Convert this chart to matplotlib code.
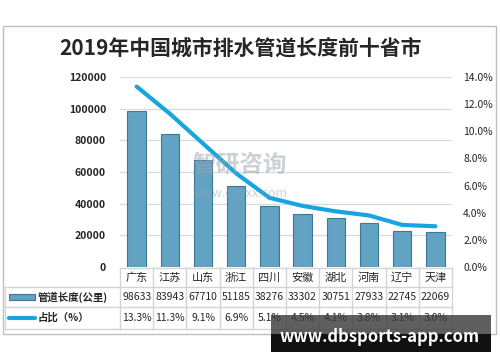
import matplotlib.pyplot as plt
import matplotlib.transforms as mtransforms
from matplotlib.lines import Line2D
from matplotlib.patches import Rectangle

plt.rcParams['font.family'] = ['Noto Sans CJK SC', 'DejaVu Sans']

provinces = ['广东', '江苏', '山东', '浙江', '四川', '安徽', '湖北', '河南', '辽宁', '天津']
lengths = [98633, 83943, 67710, 51185, 38276, 33302, 30751, 27933, 22745, 22069]
shares = [13.3, 11.3, 9.1, 6.9, 5.1, 4.5, 4.1, 3.8, 3.1, 3.0]
share_labels = ['13.3%', '11.3%', '9.1%', '6.9%', '5.1%', '4.5%', '4.1%', '3.8%', '3.1%', '3.0%']
left_ticks = [0, 20000, 40000, 60000, 80000, 100000, 120000]
right_ticks = [0, 2, 4, 6, 8, 10, 12, 14]

W, H = 500, 362
bar_c = '#62a3c4'
bar_edge = '#3d7896'
line_c = '#18a4e0'
grid_c = '#d9d9d9'
txt_c = '#262626'

fig = plt.figure(figsize=(W / 100, H / 100), dpi=100)


def fx(px):
    return px / W


def fy(py):
    return 1 - py / H


# outer border
fig.add_artist(Rectangle((fx(3), fy(334)), fx(493), (334 - 26) / H, transform=fig.transFigure,
                         fill=False, edgecolor='#bfbfbf', lw=1))

fig.text(fx(241), fy(48), '2019年中国城市排水管道长度前十省市', ha='center', va='center',
         fontsize=15, fontweight='bold', color=txt_c)

ax = fig.add_axes([fx(120), fy(267), (452 - 120) / W, (267 - 77) / H])
x = list(range(len(provinces)))
ax.bar(x, lengths, width=0.55, color=bar_c, edgecolor=bar_edge, linewidth=0.8, zorder=3)
ax.set_xlim(-0.5, len(provinces) - 0.5)
ax.set_ylim(0, 120000)
ax.set_yticks(left_ticks)
ax.set_yticklabels([str(v) for v in left_ticks], fontsize=7.5, fontweight='bold', color=txt_c)
ax.set_xticks([])
ax.grid(axis='y', color=grid_c, lw=0.9, zorder=0)
for s in ax.spines.values():
    s.set_visible(False)
ax.tick_params(axis='y', length=0, pad=10)

ax2 = ax.twinx()
ax2.plot(x, shares, color=line_c, lw=3, solid_capstyle='round', zorder=4)
ax2.set_ylim(0, 14)
ax2.set_yticks(right_ticks)
ax2.set_yticklabels(['%.1f%%' % v for v in right_ticks], fontsize=7.5, color=txt_c)
for s in ax2.spines.values():
    s.set_visible(False)
ax2.tick_params(axis='y', length=0, pad=8)

# faint centre watermark
fig.text(fx(240), fy(165), '智研咨询', ha='center', va='center', fontsize=17,
         color='#9aa4ad', alpha=0.5, fontweight='bold', zorder=10)
fig.text(fx(240), fy(193), 'www.chyxx.com', ha='center', va='center', fontsize=9,
         color='#9aa4ad', alpha=0.5, zorder=10)

# data table
tc = '#d4d4d4'
rows = [268, 287, 307, 329]
bt = mtransforms.blended_transform_factory(ax.transData, fig.transFigure)
fig.add_artist(Line2D([fx(120), fx(452)], [fy(268), fy(268)], color=tc, lw=1, transform=fig.transFigure))
for r in rows[1:]:
    fig.add_artist(Line2D([fx(5), fx(452)], [fy(r), fy(r)], color=tc, lw=1, transform=fig.transFigure))
for i in range(len(provinces) + 1):
    fig.add_artist(Line2D([i - 0.5, i - 0.5], [fy(268), fy(329)], color=tc, lw=1, transform=bt))
fig.add_artist(Line2D([fx(5), fx(5)], [fy(287), fy(329)], color=tc, lw=1, transform=fig.transFigure))

for i in x:
    fig.text(i, fy(277.5), provinces[i], transform=bt, ha='center', va='center', fontsize=8, color=txt_c)
    fig.text(i, fy(297), str(lengths[i]), transform=bt, ha='center', va='center', fontsize=7.5, color=txt_c)
    fig.text(i, fy(318), share_labels[i], transform=bt, ha='center', va='center', fontsize=7.5, color=txt_c)

fig.add_artist(Rectangle((fx(9), fy(299.5)), fx(26), 5.5 / H, transform=fig.transFigure,
                         facecolor=bar_c, edgecolor=bar_edge, lw=0.8))
fig.text(fx(38), fy(297), '管道长度(公里)', ha='left', va='center', fontsize=7.5,
         fontweight='bold', color=txt_c)
fig.add_artist(Line2D([fx(9), fx(35)], [fy(318), fy(318)], color=line_c, lw=3,
                      solid_capstyle='round', transform=fig.transFigure))
fig.text(fx(38), fy(318), '占比（%）', ha='left', va='center', fontsize=7.5,
         fontweight='bold', color=txt_c)

# bottom watermark
fig.add_artist(Rectangle((fx(271), fy(334)), fx(220), 19 / H, transform=fig.transFigure,
                         facecolor='#3c3c3c', alpha=0.82, lw=0, zorder=20))
fig.add_artist(Rectangle((fx(271), fy(352)), fx(220), 18 / H, transform=fig.transFigure,
                         facecolor='#111111', lw=0, zorder=20))
fig.text(fx(380), fy(337), 'www.dbsports-app.com', ha='center', va='center', fontsize=12,
         fontweight='bold', color='white', zorder=21)

fig.savefig('out.png', dpi=100)
